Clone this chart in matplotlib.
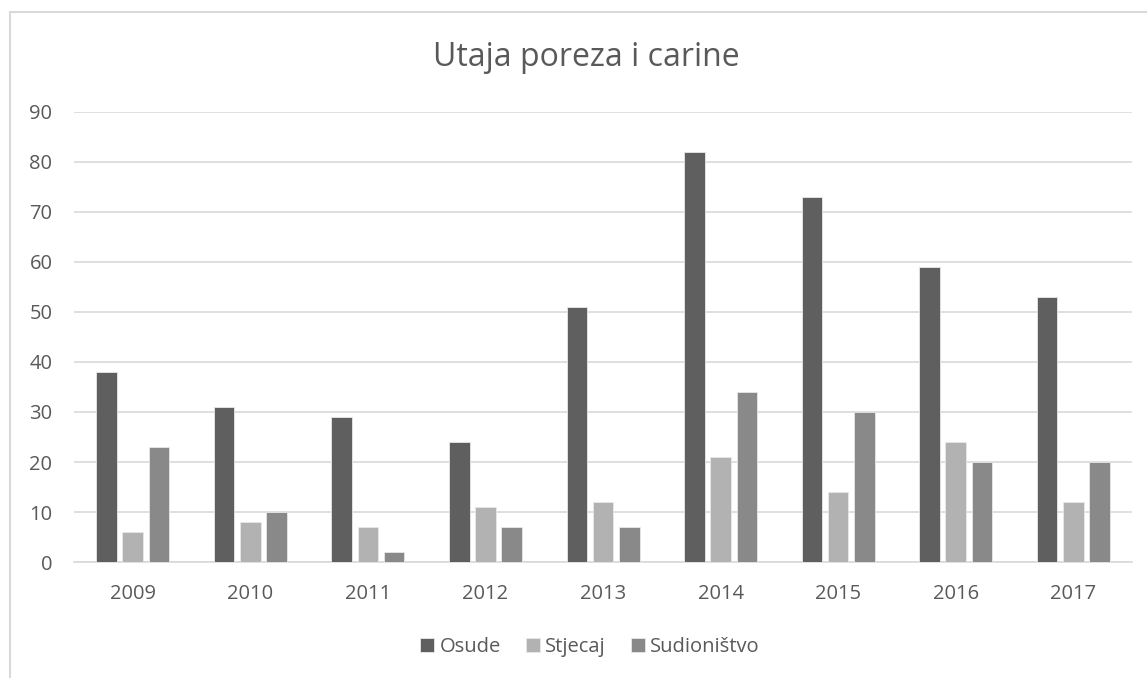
import numpy as np
import matplotlib.pyplot as plt
from matplotlib.lines import Line2D

years = ['2009', '2010', '2011', '2012', '2013', '2014', '2015', '2016', '2017']
osude = [38, 31, 29, 24, 51, 82, 73, 59, 53]
stjecaj = [6, 8, 7, 11, 12, 21, 14, 24, 12]
sudionistvo = [23, 10, 2, 7, 7, 34, 30, 20, 20]

series = [('Osude', osude, '#5f5f5f'),
          ('Stjecaj', stjecaj, '#b2b2b2'),
          ('Sudioništvo', sudionistvo, '#898989')]

plt.rcParams['font.family'] = ['Open Sans', 'DejaVu Sans']

fig = plt.figure(figsize=(11.47, 6.78), dpi=100)
ax = fig.add_axes([0.0645, 0.171, 0.9225, 0.664])

x = np.arange(len(years))
width = 0.175
step = 0.223
for i, (name, vals, col) in enumerate(series):
    ax.bar(x + (i - 1) * step, vals, width, color=col, label=name,
           edgecolor='#e8e8e8', linewidth=0.6, zorder=3)

ax.set_xlim(-0.5, len(years) - 0.5)
ax.set_ylim(0, 90)
ax.set_yticks(range(0, 91, 10))
ax.set_xticks(x)
ax.set_xticklabels(years)
ax.grid(axis='y', color='#d9d9d9', linewidth=1.2, zorder=0)
for s in ['top', 'right', 'left']:
    ax.spines[s].set_visible(False)
ax.spines['bottom'].set_color('#d9d9d9')
ax.spines['bottom'].set_linewidth(1.2)
ax.tick_params(axis='both', length=0, labelsize=14.5, colors='#595959')
ax.tick_params(axis='y', pad=15.5)
ax.tick_params(axis='x', pad=16)

# chart area runs past the right edge of the crop, so title/legend sit right of centre
fig.text(586.5 / 1147, 1 - 58 / 678, 'Utaja poreza i carine', ha='center', va='center',
         fontsize=23, color='#595959')

fig.legend(*ax.get_legend_handles_labels(), loc='center',
           bbox_to_anchor=(590 / 1147, 1 - 647 / 678), ncol=3,
           frameon=False, fontsize=14.5, labelcolor='#595959',
           handlelength=0.7, handleheight=0.7, handletextpad=0.25,
           columnspacing=1.25)

# outer chart frame (only left and top edges visible in crop)
fig.add_artist(Line2D([0.0087, 0.0087], [0, 0.982], color='#d9d9d9', linewidth=1.5))
fig.add_artist(Line2D([0.0087, 1], [0.982, 0.982], color='#d9d9d9', linewidth=1.5))

fig.savefig('out.png', dpi=100)
